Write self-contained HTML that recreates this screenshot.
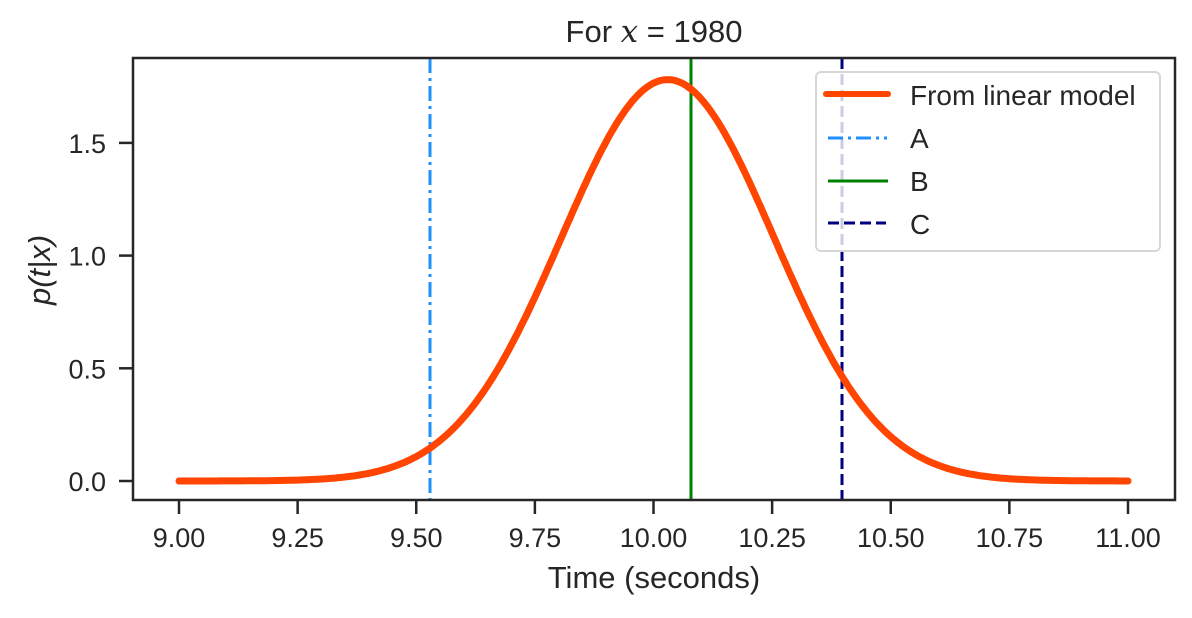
<!DOCTYPE html>
<html><head><meta charset="utf-8"><style>
html,body{margin:0;padding:0;background:#fff;}
svg text{font-family:"Liberation Sans",Arial,sans-serif;fill:#262626;}
</style></head><body>
<svg id="s" width="1192" height="613" viewBox="0 0 1192 613" xmlns="http://www.w3.org/2000/svg">
<rect width="1192" height="613" fill="#fff"/>
<text x="654" y="42" font-size="31" text-anchor="middle">For <tspan font-style="italic" font-family="DejaVu Serif, serif">x</tspan> = 1980</text>
<line x1="430" y1="58" x2="430" y2="500" stroke="#1e90ff" stroke-width="3" stroke-dasharray="15,5,3,5"/>
<line x1="691" y1="58" x2="691" y2="500" stroke="#008000" stroke-width="3"/>
<line x1="842" y1="58" x2="842" y2="500" stroke="#000080" stroke-width="3" stroke-dasharray="11,5"/>
<path id="curve" fill="none" stroke="#ff4500" stroke-width="7" stroke-linecap="round" stroke-linejoin="round"/>
<rect x="133" y="58" width="1042" height="442" fill="none" stroke="#262626" stroke-width="2.5"/>
<g stroke="#262626" stroke-width="2.5" id="ticks"></g>
<g font-size="27" id="labels"></g>
<text x="654" y="588" font-size="31" text-anchor="middle">Time (seconds)</text>
<text transform="translate(50,270) rotate(-90)" font-size="31" text-anchor="middle" font-style="italic" font-family="DejaVu Serif, serif">p(t|x)</text>
<rect x="816" y="72" width="344" height="179" rx="5" fill="#fff" fill-opacity="0.8" stroke="#d6d6d6" stroke-width="2"/>
<line x1="826" y1="94" x2="888" y2="94" stroke="#ff4500" stroke-width="6" stroke-linecap="round"/>
<line x1="828" y1="138" x2="887" y2="138" stroke="#1e90ff" stroke-width="3" stroke-dasharray="15,5,3,5"/>
<line x1="828" y1="181" x2="888" y2="181" stroke="#008000" stroke-width="3"/>
<line x1="828" y1="223" x2="886" y2="223" stroke="#000080" stroke-width="3" stroke-dasharray="11,5"/>
<g font-size="28"><text x="910" y="105">From linear model</text><text x="910" y="148">A</text><text x="910" y="191">B</text><text x="910" y="234">C</text></g>
</svg>
<script>
var X=function(v){return 179+(v-9)*474.5;},Y=function(v){return 481-v*225.4;};
var mu=10.03,sg=0.224,d="";
for(var i=0;i<=400;i++){var t=9+2*i/400;var p=Math.exp(-(t-mu)*(t-mu)/(2*sg*sg))/(sg*Math.sqrt(2*Math.PI));d+=(i?"L":"M")+X(t).toFixed(1)+","+Y(p).toFixed(1);}
document.getElementById("curve").setAttribute("d",d);
var tk=document.getElementById("ticks"),lb=document.getElementById("labels"),ns="http://www.w3.org/2000/svg";
function el(p,tag,a,txt){var e=document.createElementNS(ns,tag);for(var k in a)e.setAttribute(k,a[k]);if(txt)e.textContent=txt;p.appendChild(e);}
for(var j=0;j<9;j++){var v=9+j*0.25,x=X(v);el(tk,"line",{x1:x,y1:500,x2:x,y2:514});el(lb,"text",{x:x,y:547,"text-anchor":"middle"},v.toFixed(2));}
for(var j=0;j<4;j++){var v=j*0.5,y=Y(v);el(tk,"line",{x1:119,y1:y,x2:133,y2:y});el(lb,"text",{x:106,y:y+10,"text-anchor":"end"},v.toFixed(1));}
</script>
</body></html>
